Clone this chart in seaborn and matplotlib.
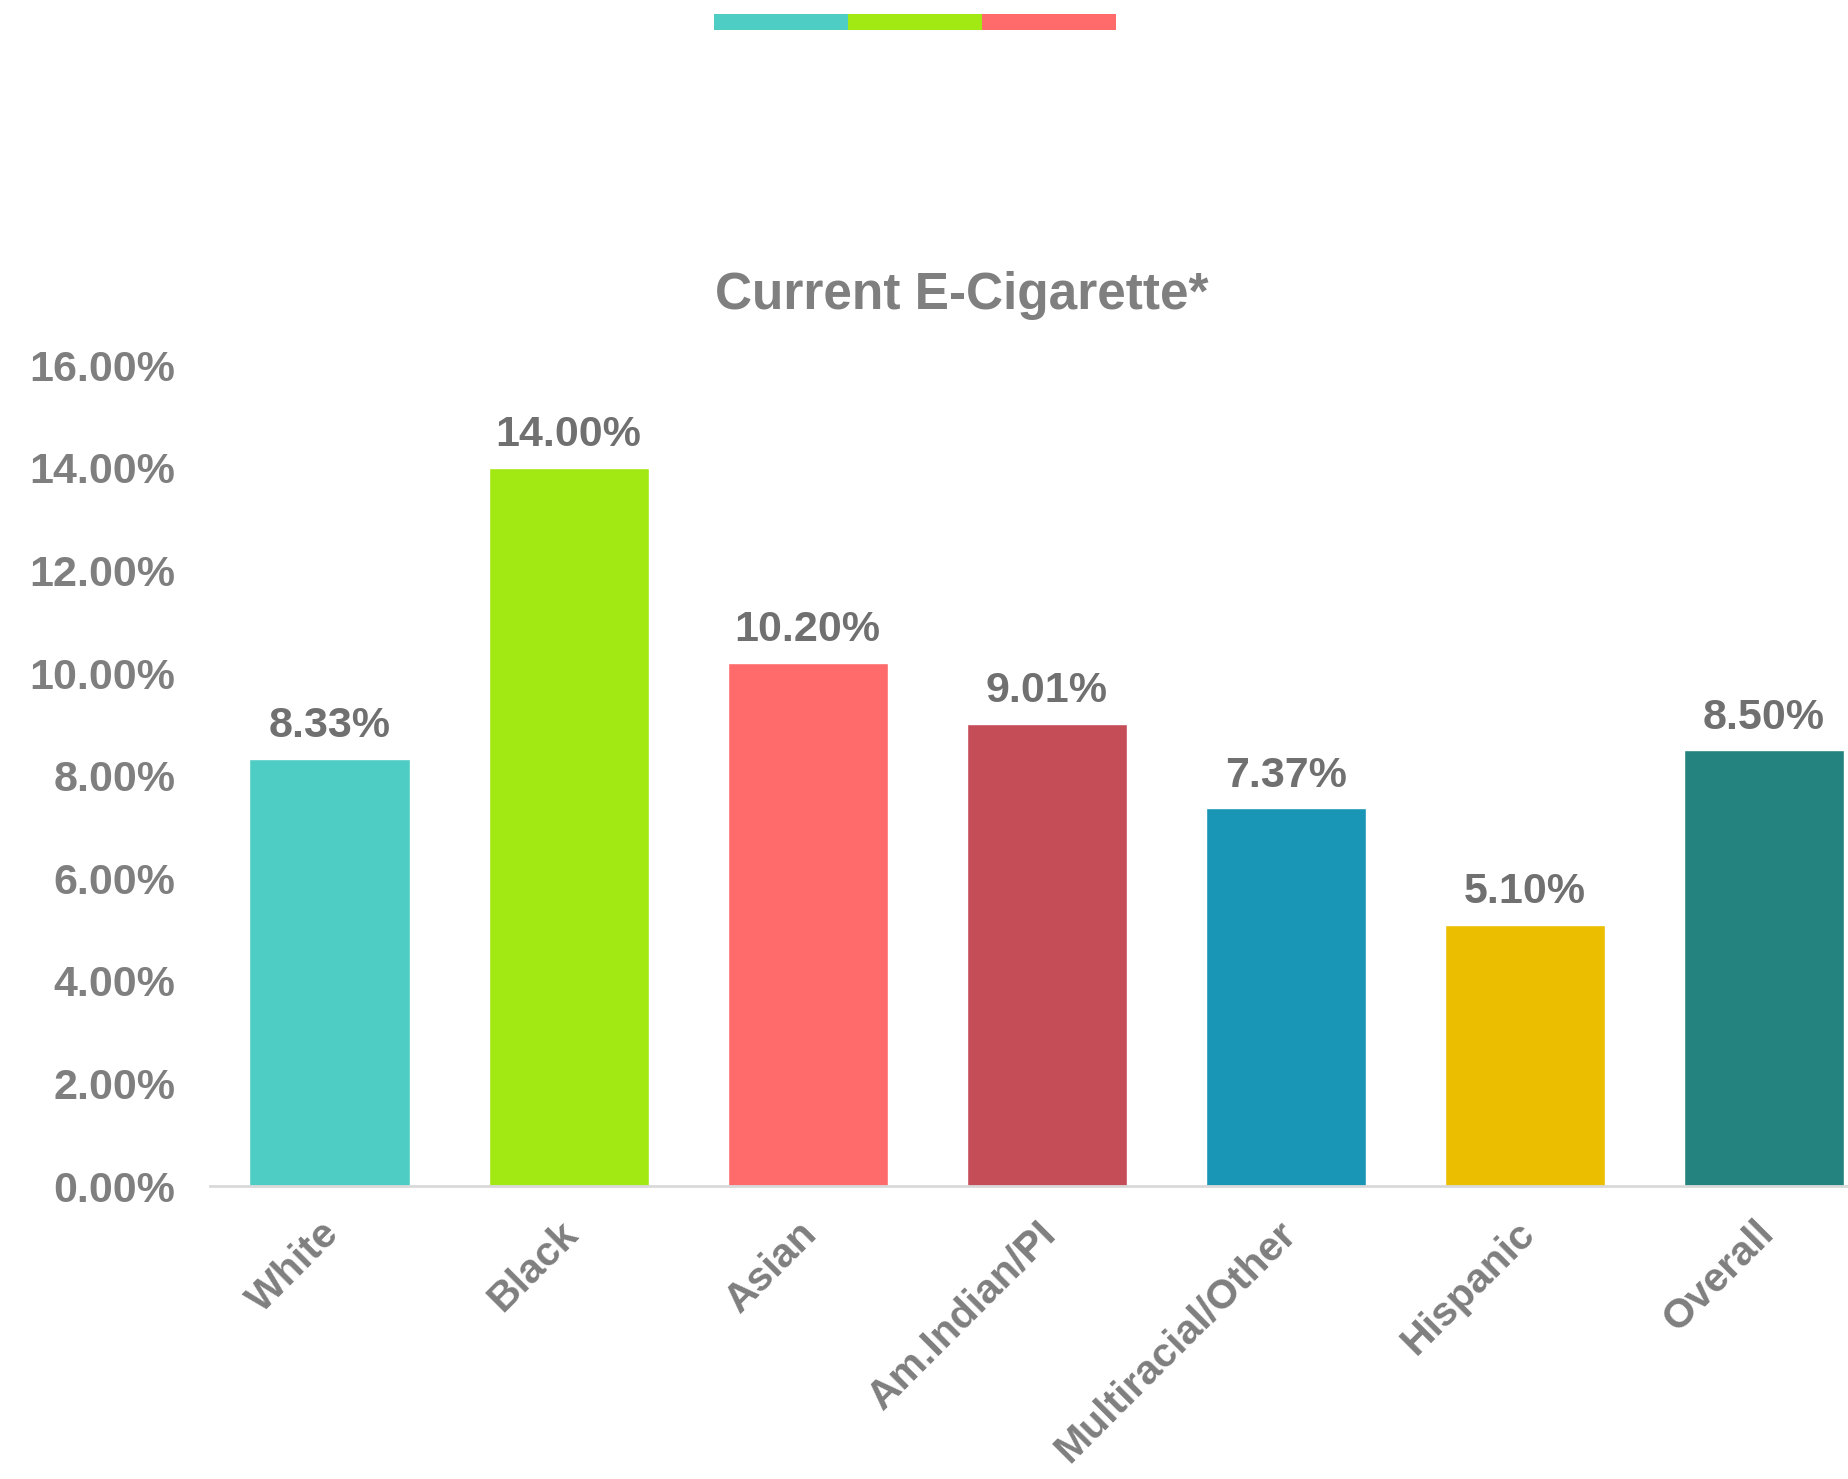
import matplotlib
matplotlib.use("Agg")
import matplotlib.pyplot as plt
import matplotlib.transforms as mtransforms
import seaborn as sns
import pandas as pd
from matplotlib.patches import Rectangle

categories = ["White", "Black", "Asian", "Am.Indian/PI", "Multiracial/Other", "Hispanic", "Overall"]
values = [8.33, 14.00, 10.20, 9.01, 7.37, 5.10, 8.50]
colors = ["#4ecdc4", "#a2e812", "#ff6b6b", "#c44d58", "#1995b5", "#ebbe00", "#24837e"]
yticks = [0, 2, 4, 6, 8, 10, 12, 14, 16]
title = "Current E-Cigarette*"

sns.set_theme(style="white")
plt.rcParams['font.family'] = ['Liberation Sans', 'DejaVu Sans']

df = pd.DataFrame({"cat": categories, "val": values})

fig = plt.figure(figsize=(18.49, 14.79), dpi=100)
ax = fig.add_axes([0.1136, 0.198, 0.905, 0.555])
sns.barplot(data=df, x="cat", y="val", hue="cat", palette=colors, legend=False,
            width=0.67, ax=ax, saturation=1)

ax.set_ylim(0, 16)
ax.set_xlim(-0.5, 6.5)
ax.set_yticks(yticks)
ax.set_yticklabels([f"{t:.2f}%" for t in yticks], fontsize=31, fontweight="bold", color="#7f7f7f")
ax.set_xticks(range(len(categories)))
ax.set_xticklabels(categories, rotation=45, ha="right", rotation_mode="anchor",
                   fontsize=29.5, fontweight="bold", color="#7f7f7f")
ax.tick_params(axis="y", length=0, pad=25)
ax.tick_params(axis="x", length=0, pad=20)
shift = mtransforms.ScaledTranslation(-10 / 100, 0, fig.dpi_scale_trans)
for lab in ax.get_xticklabels():
    lab.set_transform(lab.get_transform() + shift)
ax.set_xlabel("")
ax.set_ylabel("")
for s in ["top", "right", "left"]:
    ax.spines[s].set_visible(False)
ax.spines["bottom"].set_color("#d9d9d9")
ax.spines["bottom"].set_linewidth(2)

for i, v in enumerate(values):
    ax.annotate(f"{v:.2f}%", (i, v), xytext=(0, 9), textcoords="offset points",
                ha="center", va="bottom", fontsize=31, fontweight="bold", color="#707070")

fig.text(0.52, 0.800, title, ha="center", va="center", fontsize=37,
         fontweight="bold", color="#7f7f7f")

# decorative legend strip (no labels)
x0 = 714 / 1849
w = 134 / 1849
y0 = 1 - 30 / 1479
h = 16 / 1479
for k in range(3):
    fig.add_artist(Rectangle((x0 + k * w, y0), w, h, transform=fig.transFigure,
                             facecolor=colors[k], edgecolor="none"))

fig.savefig("out.png", dpi=100)
